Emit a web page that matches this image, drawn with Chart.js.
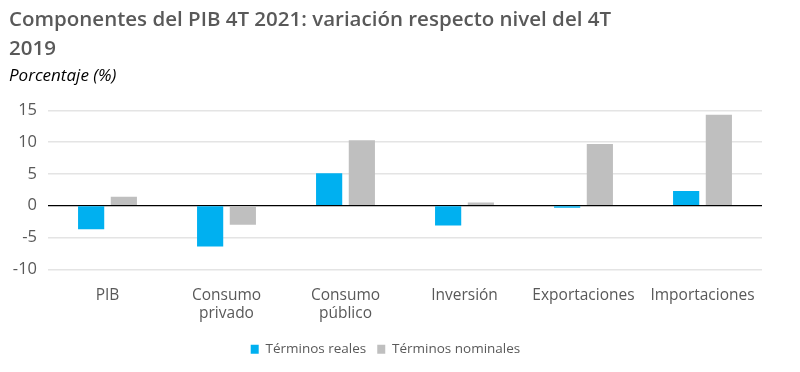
<!DOCTYPE html>
<html>
<head>
<meta charset="utf-8">
<script src="https://cdn.jsdelivr.net/npm/chart.js@4"></script>
<style>
  html, body { margin: 0; padding: 0; background: #fff; }
  #wrap { width: 800px; height: 372px; }
</style>
</head>
<body>
<div id="wrap"><canvas id="barChart" width="800" height="372"></canvas></div>
<script>
// Componentes del PIB, variación 4T 2021 vs 4T 2019 (%)
const categories = ['PIB', ['Consumo', 'privado'], ['Consumo', 'público'], 'Inversión', 'Exportaciones', 'Importaciones'];
const realTerms = [-3.7, -6.4, 5.1, -3.1, -0.3, 2.3];
const nominalTerms = [1.4, -3.0, 10.3, 0.5, 9.7, 14.3];
const yTicks = [-10, -5, 0, 5, 10, 15];

const FONT = '"Open Sans", sans-serif';

const ctx = document.getElementById('barChart').getContext('2d');
new Chart(ctx, {
    type: 'bar',
    data: {
        labels: categories,
        datasets: [
            {
                label: 'Términos reales',
                data: realTerms,
                backgroundColor: '#00B0F0',
                barPercentage: 0.8,
                categoryPercentage: 0.55,
            },
            {
                label: 'Términos nominales',
                data: nominalTerms,
                backgroundColor: '#BFBFBF',
                barPercentage: 0.8,
                categoryPercentage: 0.55,
            },
        ],
    },
    options: {
        responsive: false,
        animation: false,
        layout: { padding: { left: 9, right: 38, top: 5, bottom: 6 } },
        plugins: {
            title: {
                display: true,
                align: 'start',
                text: ['Componentes del PIB 4T 2021: variación respecto nivel del 4T', '2019'],
                color: '#595959',
                font: { family: FONT, size: 20.5, weight: '600', lineHeight: 1.45 },
                padding: { top: 0, bottom: 2 },
            },
            subtitle: {
                display: true,
                align: 'start',
                text: 'Porcentaje (%)',
                color: '#000',
                font: { family: FONT, size: 17, style: 'italic' },
                padding: { top: 0, bottom: 23.5 },
            },
            legend: {
                position: 'bottom',
                labels: {
                    color: '#595959',
                    font: { family: FONT, size: 13.5 },
                    boxWidth: 8,
                    boxHeight: 9,
                    padding: 11,
                },
            },
            tooltip: { enabled: false },
        },
        scales: {
            x: {
                grid: { display: false },
                border: { display: false },
                ticks: {
                    color: '#595959',
                    font: { family: FONT, size: 15.5 },
                    maxRotation: 0,
                    autoSkip: false,
                    padding: 8.5,
                },
            },
            y: {
                min: -10,
                max: 15,
                afterBuildTicks: (axis) => { axis.ticks = yTicks.map(v => ({ value: v })); },
                afterFit: (axis) => { axis.width = 39; },
                border: { display: false },
                grid: {
                    color: (c) => c.tick && c.tick.value === 0 ? '#000' : '#E4E4E4',
                    lineWidth: (c) => c.tick && c.tick.value === 0 ? 1.2 : 1.5,
                    drawTicks: false,
                },
                ticks: {
                    color: '#595959',
                    font: { family: FONT, size: 16.5 },
                    padding: 11,
                },
            },
        },
    },
});
</script>
</body>
</html>
